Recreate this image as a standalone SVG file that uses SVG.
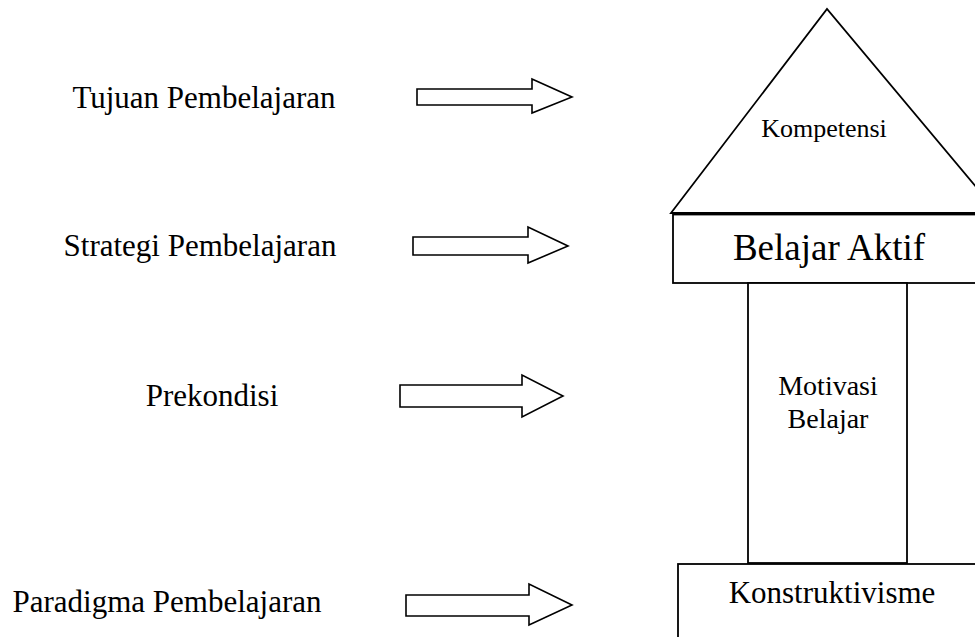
<svg xmlns="http://www.w3.org/2000/svg" width="975" height="637" viewBox="0 0 975 637">
<style>
text{font-family:'Liberation Serif','Times New Roman',Times,serif;fill:#000;text-anchor:middle}
.shape{fill:#fff;stroke:#000;stroke-width:1.8}
.arrow{fill:#fff;stroke:#000;stroke-width:1.6;stroke-linejoin:miter}
</style>
<rect width="975" height="637" fill="#fff"/>
<g id="label-tujuan"><text x="204" y="108" font-size="31">Tujuan Pembelajaran</text></g>
<g id="label-strategi"><text x="200" y="256" font-size="31">Strategi Pembelajaran</text></g>
<g id="label-prekondisi"><text x="212" y="406" font-size="31">Prekondisi</text></g>
<g id="label-paradigma"><text x="167" y="612" font-size="31">Paradigma Pembelajaran</text></g>
<g id="connectors">
<polygon class="arrow" points="417,89 532,89 532,79 572,97 532,113 532,105 417,105"/>
<polygon class="arrow" points="413,237 528,237 528,227 568,246 528,263 528,255 413,255"/>
<polygon class="arrow" points="400,385 522,385 522,375 563,396 522,417 522,407 400,407"/>
<polygon class="arrow" points="406,595 529,595 529,584 572,605 529,625 529,616 406,616"/>
</g>
<g id="node-kompetensi">
<polygon class="shape" points="671,213 827,9 998,213"/>
<text x="824" y="137" font-size="26">Kompetensi</text>
</g>
<g id="node-belajar-aktif">
<rect class="shape" x="673" y="214.5" width="320" height="68.5" stroke-width="2.2"/>
<text x="829" y="260" font-size="37">Belajar Aktif</text>
</g>
<g id="node-motivasi">
<rect class="shape" x="748" y="283" width="159" height="280"/>
<text x="828" y="395" font-size="28">Motivasi</text>
<text x="828" y="428" font-size="28">Belajar</text>
</g>
<g id="node-konstruktivisme">
<rect class="shape" x="678" y="564" width="320" height="90"/>
<text x="832" y="603" font-size="31">Konstruktivisme</text>
</g>
</svg>
